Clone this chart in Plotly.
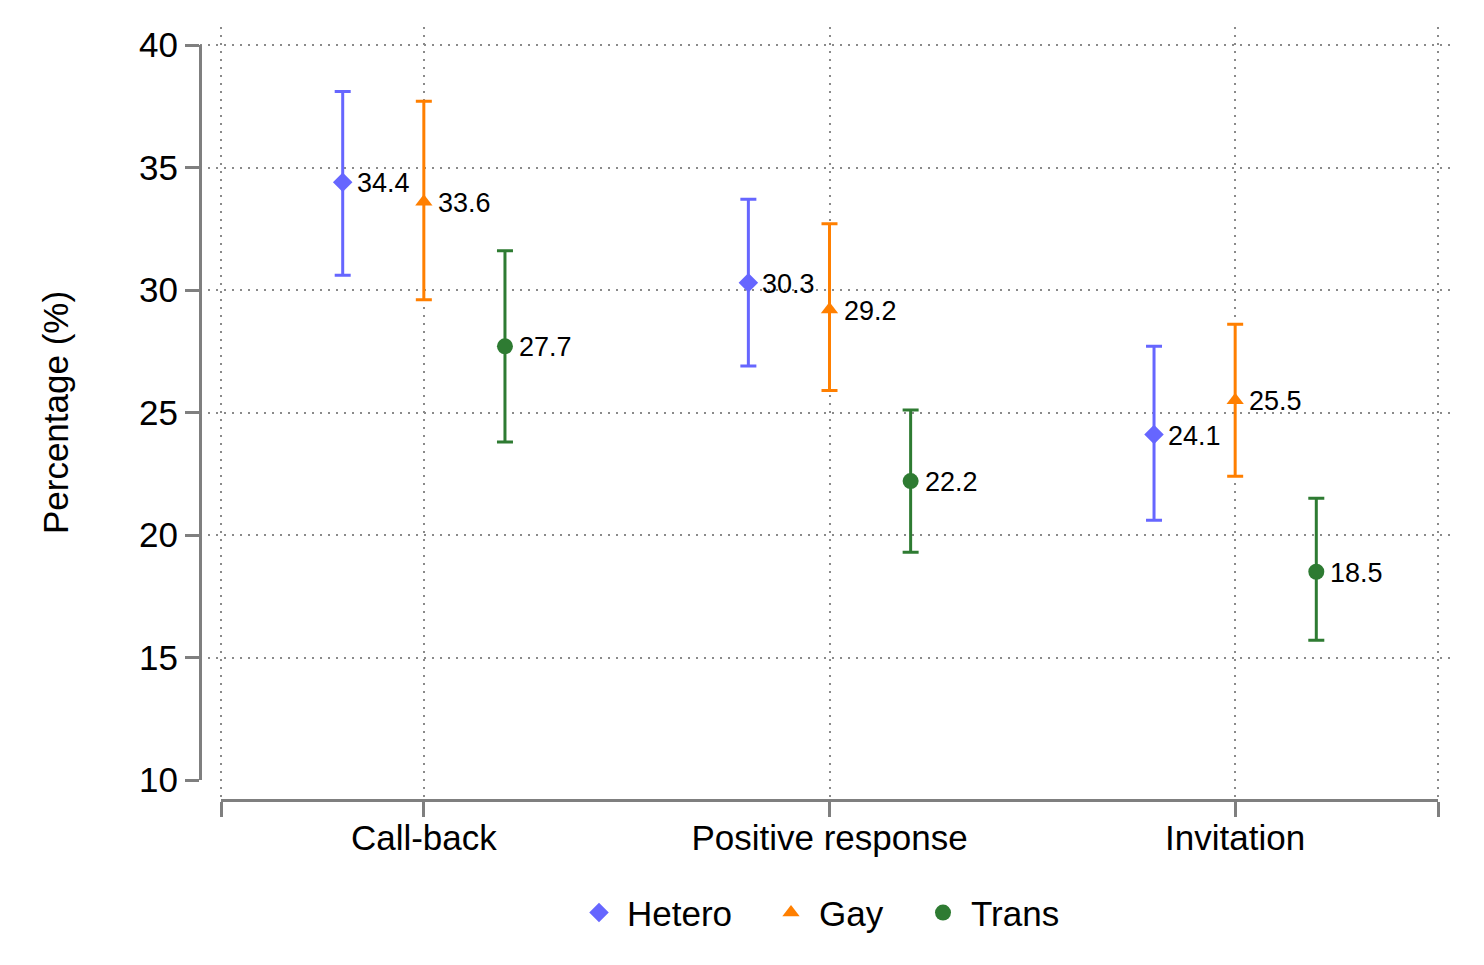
import plotly.graph_objects as go

categories = ["Call-back", "Positive response", "Invitation"]
cat_pos = [1, 2, 3]
groups = ["Hetero", "Gay", "Trans"]
offsets = [-0.2, 0.0, 0.2]

hetero = [34.4, 30.3, 24.1]
hetero_lo = [30.6, 26.9, 20.6]
hetero_hi = [38.1, 33.7, 27.7]

gay = [33.6, 29.2, 25.5]
gay_lo = [29.6, 25.9, 22.4]
gay_hi = [37.7, 32.7, 28.6]

trans = [27.7, 22.2, 18.5]
trans_lo = [23.8, 19.3, 15.7]
trans_hi = [31.6, 25.1, 21.5]

colors = ["#6666FF", "#FF7F00", "#2E7B32"]
symbols = ["diamond", "triangle-up", "circle"]
sizes = [15, 15, 16]

y_ticks = [10, 15, 20, 25, 30, 35, 40]

FONT = "Liberation Sans, Arial, Helvetica, sans-serif"
GRID = "#8A8A8A"
AX = "#7F7F7F"

W, H = 1484, 965
L, R, T, B = 200, 1484 - 1456, 27, 965 - 800
pw = 1456 - 200
ph = 800 - 27
xpx = (1438 - 221) / 3.0
x_range_main = [0.5 - (221 - 200) / xpx, 3.5 + (1456 - 1438) / xpx]
ypx = (780 - 45) / 30.0
y_range_main = [10 - (800 - 780) / ypx, 40 + (45 - 27) / ypx]

legend_names = ["legend", "legend2", "legend3"]
legend_sym_px = [599, 791, 943]

fig = go.Figure()
annotations = []

series = [(hetero, hetero_lo, hetero_hi), (gay, gay_lo, gay_hi), (trans, trans_lo, trans_hi)]
for i, (g, (vals, lo, hi), off, col, sym, sz) in enumerate(
        zip(groups, series, offsets, colors, symbols, sizes)):
    xs = [c + off for c in cat_pos]
    fig.add_trace(go.Scatter(
        x=xs, y=vals,
        xaxis="x2", yaxis="y2",
        mode="markers", name=g, legend=legend_names[i],
        marker=dict(symbol=sym, size=sz, color=col),
        error_y=dict(type="data", symmetric=False,
                     array=[h - v for h, v in zip(hi, vals)],
                     arrayminus=[v - l for v, l in zip(vals, lo)],
                     color=col, thickness=3, width=8),
        cliponaxis=False,
    ))
    for xv, v in zip(xs, vals):
        annotations.append(dict(
            x=xv, y=v, xref="x2", yref="y2", text=f"{v:.1f}", showarrow=False,
            xanchor="left", yanchor="middle", xshift=12, yshift=-1,
            font=dict(family=FONT, size=27, color="black")))

# dummy trace hosting the grid axes
fig.add_trace(go.Scatter(x=[1], y=[None], xaxis="x", yaxis="y", mode="markers",
                         showlegend=False, hoverinfo="skip"))

legend_common = dict(orientation="h", y=-0.146, yanchor="middle", xanchor="left",
                     font=dict(family=FONT, size=35), itemwidth=46,
                     itemclick=False, bgcolor="rgba(0,0,0,0)", borderwidth=0)
legends = {}
for name, px in zip(legend_names, legend_sym_px):
    legends[name] = dict(legend_common, x=(px - 28 - L) / pw)

fig.update_layout(
    width=W, height=H,
    margin=dict(l=L, r=R, t=T, b=B, pad=0, autoexpand=False),
    paper_bgcolor="white", plot_bgcolor="rgba(0,0,0,0)",
    font=dict(family=FONT, color="black"),
    showlegend=True,
    annotations=annotations,
    **legends,
    xaxis=dict(domain=[0, 1], range=x_range_main, showgrid=True, gridcolor=GRID,
               gridwidth=2, griddash="2px,6px", tickvals=[0.5, 1, 2, 3, 3.5],
               showticklabels=False, ticks="", showline=False, zeroline=False,
               automargin=False),
    yaxis=dict(domain=[0, 1], range=y_range_main, showgrid=True, gridcolor=GRID,
               gridwidth=2, griddash="2px,6px", tickvals=y_ticks[1:],
               showticklabels=False, ticks="", showline=False, zeroline=False,
               automargin=False),
    xaxis2=dict(domain=[(221 - L) / pw, (1438 - L) / pw], range=[0.5, 3.5],
                anchor="free", position=0, showgrid=False, zeroline=False,
                showline=True, linecolor=AX, linewidth=3,
                tickvals=[0.5] + cat_pos + [3.5], ticktext=[""] + categories + [""],
                ticks="outside", ticklen=15, tickwidth=3, tickcolor=AX,
                ticklabelstandoff=-9, automargin=False,
                tickfont=dict(family=FONT, size=35, color="black")),
    yaxis2=dict(domain=[(800 - 780) / ph, (800 - 45) / ph], range=[10, 40],
                anchor="free", position=0, showgrid=False, zeroline=False,
                showline=True, linecolor=AX, linewidth=3,
                tickvals=y_ticks, ticks="outside", ticklen=14, tickwidth=3, tickcolor=AX,
                automargin=False,
                tickfont=dict(family=FONT, size=35, color="black"),
                title=dict(text="Percentage (%)", font=dict(family=FONT, size=35),
                           standoff=58)),
)

fig.write_html("out.html")
